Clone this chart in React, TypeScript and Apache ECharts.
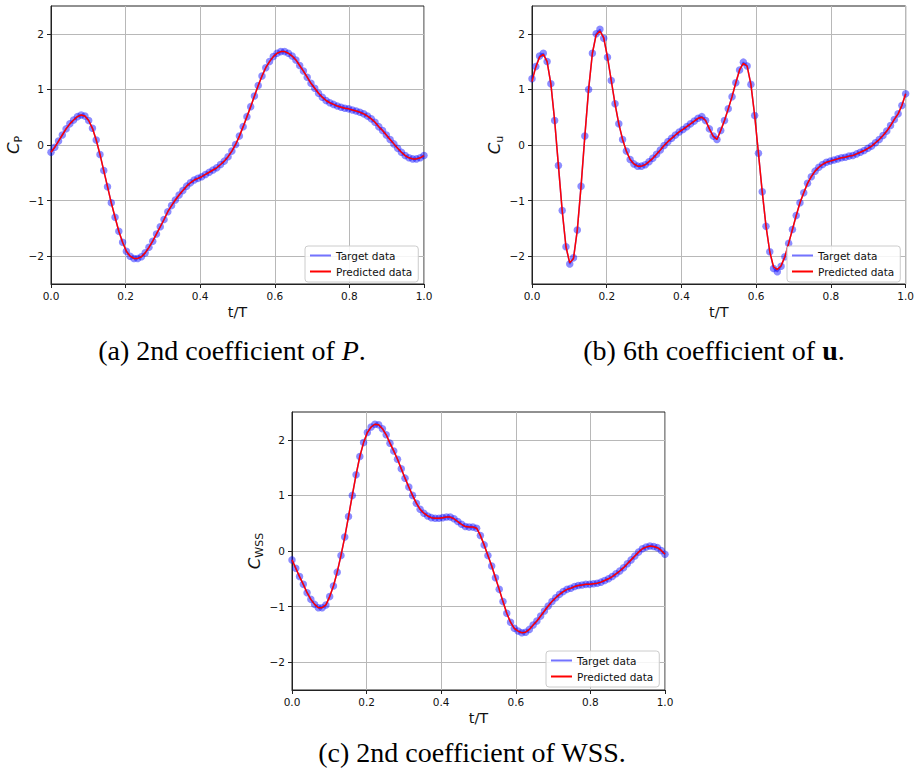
import React, { useEffect, useRef } from 'react';
import * as echarts from 'echarts';

// sample times t/T (100 samples from 0 to 1)
const T_SAMPLES = Array.from({ length: 100 }, (_, k) => k / 99);
const Y_TICKS = [-2, -1, 0, 1, 2];

// (a) 2nd coefficient of P
const TARGET_P = [
  -0.13, -0.04, 0.07, 0.18, 0.29, 0.38, 0.45, 0.51, 0.54, 0.52,
  0.44, 0.30, 0.09, -0.17, -0.46, -0.75, -1.04, -1.30, -1.55, -1.75,
  -1.91, -2.00, -2.04, -2.04, -2.01, -1.94, -1.84, -1.73, -1.60, -1.47,
  -1.34, -1.20, -1.09, -0.99, -0.90, -0.82, -0.74, -0.68, -0.63, -0.60,
  -0.57, -0.53, -0.49, -0.45, -0.41, -0.35, -0.29, -0.21, -0.11, 0.01,
  0.16, 0.33, 0.51, 0.69, 0.88, 1.07, 1.24, 1.39, 1.50, 1.59,
  1.65, 1.68, 1.68, 1.65, 1.60, 1.53, 1.43, 1.33, 1.22, 1.11,
  1.02, 0.93, 0.86, 0.80, 0.76, 0.73, 0.70, 0.68, 0.66, 0.65,
  0.63, 0.61, 0.59, 0.56, 0.52, 0.47, 0.41, 0.33, 0.26, 0.18,
  0.10, 0.02, -0.06, -0.13, -0.19, -0.23, -0.25, -0.25, -0.23, -0.19,
];
const PRED_P = [
  -0.13, -0.04, 0.07, 0.18, 0.29, 0.38, 0.45, 0.51, 0.54, 0.52,
  0.44, 0.30, 0.09, -0.17, -0.46, -0.75, -1.04, -1.30, -1.55, -1.75,
  -1.91, -2.00, -2.04, -2.04, -2.01, -1.94, -1.84, -1.73, -1.60, -1.47,
  -1.34, -1.20, -1.09, -0.99, -0.90, -0.82, -0.74, -0.68, -0.63, -0.60,
  -0.57, -0.53, -0.49, -0.45, -0.41, -0.35, -0.29, -0.21, -0.11, 0.01,
  0.16, 0.33, 0.51, 0.69, 0.88, 1.07, 1.24, 1.39, 1.50, 1.59,
  1.65, 1.68, 1.68, 1.65, 1.60, 1.53, 1.43, 1.33, 1.22, 1.11,
  1.02, 0.93, 0.86, 0.80, 0.76, 0.73, 0.70, 0.68, 0.66, 0.65,
  0.63, 0.61, 0.59, 0.56, 0.52, 0.47, 0.41, 0.33, 0.26, 0.18,
  0.10, 0.02, -0.06, -0.13, -0.19, -0.23, -0.25, -0.25, -0.23, -0.19,
];

// (b) 6th coefficient of u
const TARGET_U = [
  1.19, 1.41, 1.60, 1.65, 1.50, 1.10, 0.44, -0.37, -1.18, -1.83,
  -2.14, -2.03, -1.53, -0.74, 0.16, 1.00, 1.65, 2.00, 2.08, 1.92,
  1.58, 1.16, 0.74, 0.38, 0.10, -0.11, -0.26, -0.34, -0.38, -0.38,
  -0.355, -0.30, -0.24, -0.165, -0.09, -0.01, 0.06, 0.12, 0.18, 0.235,
  0.28, 0.33, 0.38, 0.43, 0.48, 0.51, 0.44, 0.29, 0.16, 0.10,
  0.26, 0.44, 0.65, 0.87, 1.12, 1.35, 1.49, 1.42, 1.09, 0.53,
  -0.15, -0.84, -1.46, -1.92, -2.22, -2.28, -2.18, -2.01, -1.77, -1.52,
  -1.27, -1.04, -0.86, -0.69, -0.57, -0.47, -0.40, -0.35, -0.31, -0.29,
  -0.27, -0.25, -0.23, -0.22, -0.20, -0.19, -0.16, -0.13, -0.10, -0.06,
  -0.02, 0.04, 0.10, 0.17, 0.25, 0.35, 0.46, 0.56, 0.71, 0.92,
];
const PRED_U = [
  1.14, 1.40, 1.58, 1.63, 1.50, 1.10, 0.44, -0.37, -1.18, -1.83,
  -2.12, -2.04, -1.53, -0.74, 0.16, 1.00, 1.65, 1.98, 2.05, 1.93,
  1.58, 1.16, 0.74, 0.38, 0.10, -0.11, -0.26, -0.34, -0.38, -0.38,
  -0.355, -0.30, -0.24, -0.165, -0.09, -0.01, 0.06, 0.12, 0.18, 0.235,
  0.28, 0.33, 0.38, 0.43, 0.48, 0.50, 0.44, 0.29, 0.16, 0.10,
  0.26, 0.44, 0.65, 0.87, 1.12, 1.35, 1.47, 1.42, 1.09, 0.53,
  -0.15, -0.84, -1.46, -1.92, -2.19, -2.24, -2.17, -2.01, -1.77, -1.52,
  -1.27, -1.04, -0.86, -0.69, -0.57, -0.47, -0.40, -0.35, -0.31, -0.29,
  -0.27, -0.25, -0.23, -0.22, -0.20, -0.19, -0.16, -0.13, -0.10, -0.06,
  -0.02, 0.04, 0.10, 0.17, 0.25, 0.35, 0.46, 0.56, 0.71, 0.92,
];

// (c) 2nd coefficient of WSS
const TARGET_W = [
  -0.16, -0.31, -0.46, -0.60, -0.75, -0.87, -0.96, -1.02, -1.02, -0.97,
  -0.82, -0.63, -0.38, -0.08, 0.25, 0.62, 1.00, 1.37, 1.70, 1.95,
  2.13, 2.23, 2.28, 2.27, 2.20, 2.09, 1.94, 1.80, 1.65, 1.48,
  1.31, 1.15, 1.00, 0.86, 0.75, 0.68, 0.63, 0.60, 0.59, 0.59,
  0.60, 0.61, 0.61, 0.58, 0.53, 0.48, 0.44, 0.43, 0.43, 0.41,
  0.28, 0.11, -0.08, -0.27, -0.48, -0.69, -0.91, -1.12, -1.28, -1.39,
  -1.44, -1.47, -1.46, -1.41, -1.33, -1.26, -1.17, -1.08, -0.99, -0.91,
  -0.84, -0.78, -0.73, -0.69, -0.67, -0.64, -0.62, -0.61, -0.60, -0.60,
  -0.59, -0.58, -0.56, -0.53, -0.50, -0.46, -0.41, -0.36, -0.30, -0.23,
  -0.16, -0.09, -0.02, 0.04, 0.07, 0.09, 0.08, 0.06, 0.01, -0.06,
];
const PRED_W = [
  -0.16, -0.31, -0.46, -0.60, -0.75, -0.87, -0.96, -1.02, -1.02, -0.97,
  -0.82, -0.63, -0.38, -0.08, 0.25, 0.62, 1.00, 1.37, 1.70, 1.95,
  2.13, 2.23, 2.28, 2.27, 2.20, 2.09, 1.94, 1.80, 1.65, 1.48,
  1.31, 1.15, 1.00, 0.86, 0.75, 0.68, 0.63, 0.60, 0.59, 0.59,
  0.60, 0.61, 0.61, 0.58, 0.53, 0.48, 0.44, 0.43, 0.43, 0.41,
  0.28, 0.11, -0.08, -0.27, -0.48, -0.69, -0.91, -1.12, -1.28, -1.39,
  -1.44, -1.47, -1.46, -1.41, -1.33, -1.26, -1.17, -1.08, -0.99, -0.91,
  -0.84, -0.78, -0.73, -0.69, -0.67, -0.64, -0.62, -0.61, -0.60, -0.60,
  -0.59, -0.58, -0.56, -0.53, -0.50, -0.46, -0.41, -0.36, -0.30, -0.23,
  -0.16, -0.09, -0.02, 0.04, 0.07, 0.09, 0.08, 0.06, 0.01, -0.06,
];

const PANELS = [
  { sub: 'P', target: TARGET_P, pred: PRED_P },
  { sub: 'u', target: TARGET_U, pred: PRED_U },
  { sub: 'WSS', target: TARGET_W, pred: PRED_W },
];

const FONT = 'DejaVu Sans';
const SERIF = 'Liberation Serif';

const GRIDS = [
  { left: 51, top: 6, width: 373, height: 278 },
  { left: 532, top: 6, width: 374, height: 278 },
  { left: 292, top: 412, width: 373, height: 278 },
];
const LEGEND_POS = [
  { left: 305, top: 246 },
  { left: 787, top: 246 },
  { left: 546, top: 651 },
];

function fmtY(v: number) {
  return v < 0 ? '\u2212' + Math.abs(v) : String(v);
}

export default function App() {
  const ref = useRef<HTMLDivElement>(null);
  useEffect(() => {
    if (!ref.current) return;
    const chart = echarts.init(ref.current, null, { renderer: 'svg' });

    const grid = GRIDS.map((g) => ({
      ...g,
      show: true,
      borderColor: '#222',
      borderWidth: 1,
      backgroundColor: '#fff',
    }));

    const xAxis = PANELS.map((_, i) => ({
      gridIndex: i,
      type: 'value',
      min: 0,
      max: 1,
      interval: 0.2,
      axisLine: { show: true, onZero: false, lineStyle: { color: '#222', width: 1 } },
      axisTick: { show: true, length: 4, lineStyle: { color: '#222', width: 1 } },
      axisLabel: {
        fontFamily: FONT,
        fontSize: 10.5,
        color: '#111',
        margin: 6,
        formatter: (v: number) => v.toFixed(1),
      },
      splitLine: { show: true, lineStyle: { color: '#b8b8b8', width: 1 } },
      name: 't/T',
      nameLocation: 'middle',
      nameGap: 20,
      nameTextStyle: { fontFamily: FONT, fontSize: 14.5, color: '#111' },
    }));

    const yAxis = PANELS.map((p, i) => ({
      gridIndex: i,
      type: 'value',
      min: -2.5,
      max: 2.5,
      splitNumber: 5,
      axisLine: { show: true, onZero: false, lineStyle: { color: '#222', width: 1 } },
      axisTick: {
        show: true,
        length: 4,
        customValues: Y_TICKS,
        lineStyle: { color: '#222', width: 1 },
      },
      axisLabel: {
        fontFamily: FONT,
        fontSize: 10.5,
        color: '#111',
        margin: 7,
        customValues: Y_TICKS,
        formatter: fmtY,
      },
      splitLine: { show: true, lineStyle: { color: '#b8b8b8', width: 1 } },
      name: '{c|C}{s|' + p.sub + '}',
      nameLocation: 'middle',
      nameGap: 27,
      nameTextStyle: {
        color: '#111',
        rich: {
          c: { fontFamily: FONT, fontStyle: 'italic', fontSize: 16.5, lineHeight: 22, color: '#111' },
          s: { fontFamily: FONT, fontSize: 11, lineHeight: 12, verticalAlign: 'bottom', color: '#111' },
        },
      },
    }));

    const series: any[] = [];
    PANELS.forEach((p, i) => {
      series.push({
        type: 'line',
        name: 'Target data',
        xAxisIndex: i,
        yAxisIndex: i,
        data: T_SAMPLES.map((t, k) => [t, p.target[k]]),
        symbol: 'circle',
        symbolSize: 7.5,
        showAllSymbol: true,
        itemStyle: { color: 'rgba(0,0,255,0.45)', borderWidth: 0 },
        lineStyle: { color: 'rgba(0,0,255,0.5)', width: 1.5 },
        emphasis: { disabled: true },
        z: 2,
      });
      series.push({
        type: 'line',
        name: 'Predicted data',
        xAxisIndex: i,
        yAxisIndex: i,
        data: T_SAMPLES.map((t, k) => [t, p.pred[k]]),
        symbol: 'none',
        lineStyle: { color: '#ff0000', width: 1.5 },
        emphasis: { disabled: true },
        z: 3,
      });
    });

    const legend = LEGEND_POS.map((pos) => ({
      ...pos,
      orient: 'vertical',
      backgroundColor: 'rgba(255,255,255,0.85)',
      borderColor: '#cccccc',
      borderWidth: 1,
      borderRadius: 3,
      padding: [3, 6, 4, 5],
      itemGap: 3,
      itemWidth: 21,
      itemHeight: 2,
      selectedMode: false,
      textStyle: { fontFamily: FONT, fontSize: 10.5, color: '#111', lineHeight: 13 },
      data: [
        { name: 'Target data', icon: 'rect', itemStyle: { color: 'rgba(0,0,255,0.55)' } },
        { name: 'Predicted data', icon: 'rect', itemStyle: { color: '#ff0000' } },
      ],
    }));

    const capStyle = (text: string, x: number, y: number) => ({
      type: 'text',
      x,
      y,
      style: {
        text,
        fill: '#000',
        fontFamily: SERIF,
        fontSize: 28,
        align: 'center',
        verticalAlign: 'middle',
        textAlign: 'center',
        textVerticalAlign: 'middle',
        rich: {
          i: { fontFamily: SERIF, fontSize: 28, fontStyle: 'italic', fill: '#000' },
          b: { fontFamily: SERIF, fontSize: 28, fontWeight: 'bold', fill: '#000' },
        },
      },
    });

    chart.setOption({
      animation: false,
      backgroundColor: '#fff',
      grid,
      xAxis,
      yAxis,
      series,
      legend,
      graphic: [
        capStyle('(a) 2nd coefficient of {i|P}.', 232, 350),
        capStyle('(b) 6th coefficient of {b|u}.', 714, 350),
        capStyle('(c) 2nd coefficient of WSS.', 472, 752),
      ],
    });
    return () => chart.dispose();
  }, []);
  return (
    <div
      ref={ref}
      style={{ position: 'absolute', left: 0, top: 0, width: 917, height: 769, background: '#fff' }}
    />
  );
}
